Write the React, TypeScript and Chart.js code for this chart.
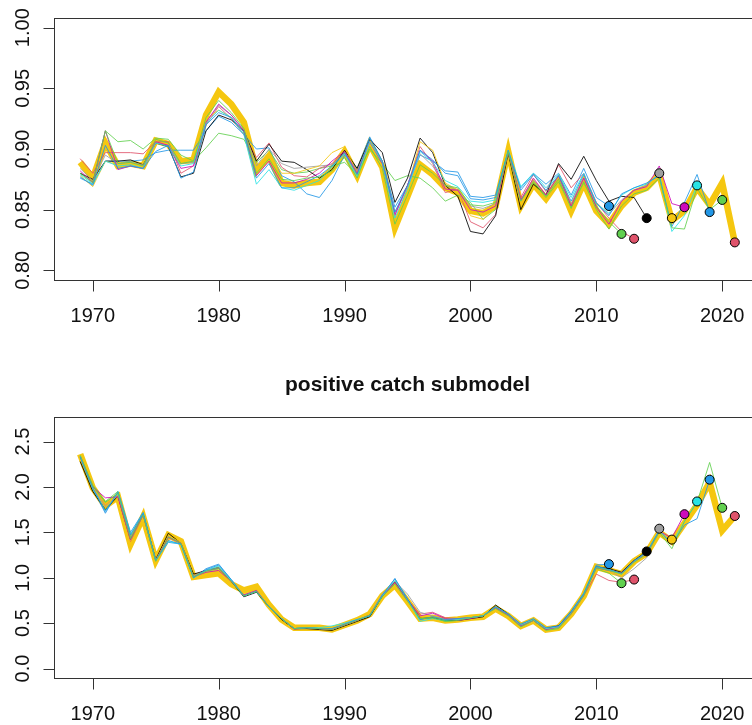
import { useEffect, useRef } from 'react';
import Chart from 'chart.js/auto';

// first year of every series, values are one per year from here
const FIRST_YEAR = 1969;
const xTickYears = [1970, 1980, 1990, 2000, 2010, 2020];

const topTicks = [0.8, 0.85, 0.9, 0.95, 1.0];
const topTickLabels = ['0.80', '0.85', '0.90', '0.95', '1.00'];
const bottomTicks = [0, 0.5, 1, 1.5, 2, 2.5];
const bottomTickLabels = ['0.0', '0.5', '1.0', '1.5', '2.0', '2.5'];

const bottomTitle = 'positive catch submodel';

// peels end in these years; the full run ends in 2021
const peelEndYears = [2011, 2012, 2013, 2014, 2015, 2016, 2017, 2018, 2019, 2020];
const peelColors = [
  '#2297E6', '#61D04F', '#DF536B', '#000000', '#9E9E9E',
  '#F5C710', '#CD0BBC', '#28E2E5', '#2297E6', '#61D04F',
];
const baseEndColor = '#DF536B';
const baseLineColor = '#F5C710';

// ---- top panel ----
const topBase = [
  0.889, 0.876, 0.905, 0.886, 0.888, 0.886, 0.907, 0.904, 0.890, 0.891,
  0.928, 0.947, 0.937, 0.922, 0.882, 0.894, 0.872, 0.870, 0.872, 0.873,
  0.883, 0.898, 0.878, 0.904, 0.885, 0.835, 0.861, 0.887, 0.879, 0.868,
  0.864, 0.849, 0.847, 0.853, 0.898, 0.853, 0.871, 0.859, 0.874, 0.849,
  0.872, 0.849, 0.838, 0.853, 0.864, 0.868, 0.879, 0.841, 0.849, 0.868, 0.854, 0.872, 0.823,
];
const top2011 = [
  0.876, 0.871, 0.890, 0.890, 0.890, 0.891, 0.897, 0.899, 0.899, 0.899,
  0.915, 0.927, 0.922, 0.912, 0.900, 0.901, 0.878, 0.873, 0.863, 0.860,
  0.874, 0.895, 0.884, 0.910, 0.890, 0.852, 0.870, 0.895, 0.890, 0.882,
  0.881, 0.861, 0.860, 0.862, 0.898, 0.868, 0.880, 0.871, 0.880, 0.862,
  0.884, 0.860, 0.853,
];
const top2012 = [
  0.880, 0.873, 0.915, 0.906, 0.907, 0.900, 0.909, 0.908, 0.895, 0.890,
  0.901, 0.913, 0.911, 0.908, 0.889, 0.899, 0.883, 0.880, 0.881, 0.884,
  0.886, 0.889, 0.879, 0.900, 0.888, 0.874, 0.878, 0.876, 0.868, 0.857,
  0.862, 0.856, 0.842, 0.850, 0.896, 0.858, 0.872, 0.860, 0.873, 0.852,
  0.872, 0.853, 0.840, 0.830,
];
const top2013 = [
  0.892, 0.880, 0.897, 0.897, 0.897, 0.896, 0.906, 0.906, 0.880, 0.886,
  0.920, 0.935, 0.925, 0.912, 0.893, 0.905, 0.885, 0.878, 0.877, 0.884,
  0.888, 0.897, 0.882, 0.905, 0.890, 0.845, 0.870, 0.902, 0.888, 0.864,
  0.867, 0.840, 0.835, 0.846, 0.898, 0.860, 0.879, 0.865, 0.887, 0.868,
  0.880, 0.856, 0.843, 0.832, 0.826,
];
const top2014 = [
  0.880, 0.875, 0.890, 0.890, 0.891, 0.887, 0.905, 0.902, 0.877, 0.880,
  0.915, 0.928, 0.924, 0.915, 0.890, 0.904, 0.890, 0.889, 0.883, 0.876,
  0.883, 0.899, 0.884, 0.908, 0.897, 0.856, 0.876, 0.909, 0.897, 0.870,
  0.861, 0.832, 0.830, 0.845, 0.897, 0.850, 0.871, 0.862, 0.888, 0.875,
  0.894, 0.874, 0.857, 0.861, 0.860, 0.843,
];
const top2015 = [
  0.884, 0.874, 0.895, 0.888, 0.889, 0.887, 0.905, 0.903, 0.888, 0.889,
  0.922, 0.936, 0.928, 0.916, 0.886, 0.900, 0.888, 0.884, 0.885, 0.886,
  0.887, 0.896, 0.882, 0.906, 0.888, 0.848, 0.868, 0.896, 0.886, 0.870,
  0.866, 0.853, 0.851, 0.855, 0.898, 0.857, 0.874, 0.862, 0.876, 0.855,
  0.876, 0.856, 0.846, 0.858, 0.866, 0.870, 0.880,
];
const top2016 = [
  0.878, 0.869, 0.890, 0.887, 0.888, 0.885, 0.906, 0.904, 0.889, 0.890,
  0.925, 0.932, 0.926, 0.914, 0.884, 0.898, 0.880, 0.880, 0.883, 0.886,
  0.897, 0.902, 0.880, 0.905, 0.889, 0.840, 0.868, 0.906, 0.899, 0.872,
  0.866, 0.845, 0.842, 0.852, 0.898, 0.855, 0.873, 0.861, 0.876, 0.850,
  0.873, 0.850, 0.834, 0.855, 0.865, 0.868, 0.878, 0.843,
];
const top2017 = [
  0.882, 0.872, 0.915, 0.883, 0.886, 0.884, 0.906, 0.903, 0.884, 0.886,
  0.922, 0.937, 0.928, 0.915, 0.878, 0.890, 0.872, 0.872, 0.875, 0.880,
  0.890, 0.898, 0.880, 0.906, 0.888, 0.846, 0.870, 0.899, 0.890, 0.867,
  0.866, 0.850, 0.848, 0.853, 0.898, 0.858, 0.876, 0.862, 0.878, 0.853,
  0.876, 0.852, 0.838, 0.857, 0.866, 0.869, 0.886, 0.855, 0.852,
];
const top2018 = [
  0.879, 0.871, 0.890, 0.886, 0.887, 0.884, 0.905, 0.902, 0.886, 0.888,
  0.921, 0.932, 0.926, 0.912, 0.871, 0.883, 0.868, 0.866, 0.870, 0.874,
  0.885, 0.896, 0.877, 0.906, 0.889, 0.843, 0.867, 0.898, 0.889, 0.874,
  0.869, 0.857, 0.856, 0.858, 0.899, 0.869, 0.880, 0.868, 0.879, 0.860,
  0.880, 0.855, 0.847, 0.862, 0.868, 0.871, 0.879, 0.832, 0.845, 0.870,
];
const top2019 = [
  0.877, 0.870, 0.903, 0.884, 0.886, 0.884, 0.898, 0.903, 0.876, 0.881,
  0.920, 0.930, 0.926, 0.914, 0.876, 0.888, 0.868, 0.868, 0.873, 0.878,
  0.886, 0.897, 0.879, 0.909, 0.890, 0.848, 0.870, 0.899, 0.891, 0.880,
  0.878, 0.859, 0.858, 0.860, 0.899, 0.866, 0.879, 0.866, 0.878, 0.857,
  0.879, 0.855, 0.845, 0.863, 0.868, 0.872, 0.878, 0.836, 0.856, 0.879, 0.848,
];
const top2020 = [
  0.880, 0.872, 0.915, 0.888, 0.889, 0.886, 0.908, 0.905, 0.888, 0.890,
  0.926, 0.940, 0.930, 0.917, 0.880, 0.892, 0.875, 0.874, 0.876, 0.877,
  0.882, 0.893, 0.876, 0.902, 0.884, 0.838, 0.862, 0.887, 0.880, 0.870,
  0.868, 0.854, 0.853, 0.856, 0.898, 0.857, 0.873, 0.861, 0.875, 0.851,
  0.873, 0.850, 0.834, 0.853, 0.863, 0.866, 0.876, 0.835, 0.834, 0.868, 0.850, 0.858,
];

// ---- bottom panel: positive catch submodel ----
const bottomBase = [
  2.36, 1.99, 1.79, 1.89, 1.37, 1.67, 1.19, 1.47, 1.40, 1.01,
  1.03, 1.05, 0.93, 0.86, 0.90, 0.70, 0.54, 0.45, 0.45, 0.45,
  0.43, 0.48, 0.53, 0.60, 0.80, 0.92, 0.74, 0.55, 0.56, 0.53,
  0.54, 0.56, 0.57, 0.66, 0.58, 0.47, 0.53, 0.43, 0.45, 0.60,
  0.80, 1.12, 1.08, 1.04, 1.18, 1.27, 1.50, 1.40, 1.60, 1.80, 2.05, 1.52, 1.68,
];
const bot2011 = [
  2.33, 1.98, 1.71, 1.95, 1.50, 1.72, 1.19, 1.39, 1.37, 1.00,
  1.10, 1.15, 0.98, 0.80, 0.85, 0.68, 0.55, 0.44, 0.45, 0.44,
  0.44, 0.48, 0.53, 0.58, 0.80, 0.99, 0.76, 0.54, 0.57, 0.54,
  0.55, 0.56, 0.58, 0.68, 0.59, 0.48, 0.54, 0.44, 0.47, 0.63,
  0.83, 1.14, 1.15,
];
const bot2012 = [
  2.34, 2.02, 1.84, 1.95, 1.45, 1.70, 1.19, 1.45, 1.38, 1.02,
  1.08, 1.12, 0.97, 0.81, 0.85, 0.68, 0.55, 0.44, 0.45, 0.44,
  0.43, 0.48, 0.53, 0.59, 0.79, 0.95, 0.75, 0.55, 0.56, 0.52,
  0.53, 0.56, 0.58, 0.67, 0.59, 0.46, 0.53, 0.43, 0.45, 0.61,
  0.82, 1.10, 1.05, 0.94,
];
const bot2013 = [
  2.33, 2.00, 1.80, 1.90, 1.40, 1.69, 1.19, 1.44, 1.38, 1.02,
  1.07, 1.10, 0.97, 0.81, 0.86, 0.68, 0.55, 0.43, 0.45, 0.44,
  0.43, 0.48, 0.53, 0.59, 0.80, 0.94, 0.76, 0.60, 0.62, 0.56,
  0.55, 0.56, 0.58, 0.67, 0.59, 0.47, 0.53, 0.43, 0.46, 0.60,
  0.80, 1.04, 0.97, 0.95, 0.98,
];
const bot2014 = [
  2.28, 1.95, 1.75, 1.90, 1.42, 1.70, 1.20, 1.49, 1.38, 1.04,
  1.08, 1.11, 0.96, 0.79, 0.84, 0.68, 0.54, 0.44, 0.44, 0.43,
  0.42, 0.47, 0.52, 0.57, 0.80, 0.95, 0.76, 0.56, 0.56, 0.53,
  0.53, 0.55, 0.57, 0.70, 0.60, 0.48, 0.54, 0.44, 0.47, 0.62,
  0.81, 1.12, 1.10, 1.06, 1.19, 1.29,
];
const bot2015 = [
  2.34, 1.99, 1.78, 1.92, 1.44, 1.70, 1.19, 1.45, 1.38, 1.02,
  1.08, 1.11, 0.97, 0.80, 0.85, 0.68, 0.55, 0.44, 0.45, 0.44,
  0.43, 0.48, 0.53, 0.59, 0.82, 0.96, 0.82, 0.62, 0.58, 0.54,
  0.54, 0.56, 0.58, 0.67, 0.59, 0.47, 0.53, 0.43, 0.46, 0.61,
  0.81, 1.11, 1.08, 1.00, 1.10, 1.22, 1.54,
];
const bot2016 = [
  2.35, 2.00, 1.80, 1.90, 1.41, 1.69, 1.19, 1.46, 1.39, 1.01,
  1.06, 1.09, 0.96, 0.82, 0.87, 0.69, 0.55, 0.44, 0.45, 0.44,
  0.43, 0.48, 0.53, 0.59, 0.80, 0.94, 0.75, 0.56, 0.57, 0.54,
  0.54, 0.56, 0.58, 0.67, 0.59, 0.48, 0.54, 0.44, 0.46, 0.61,
  0.81, 1.10, 1.07, 1.03, 1.17, 1.26, 1.50, 1.42,
];
const bot2017 = [
  2.34, 2.00, 1.88, 1.89, 1.42, 1.69, 1.19, 1.45, 1.38, 1.01,
  1.06, 1.08, 0.96, 0.81, 0.86, 0.68, 0.55, 0.44, 0.45, 0.44,
  0.43, 0.48, 0.53, 0.59, 0.80, 0.95, 0.75, 0.58, 0.61, 0.55,
  0.53, 0.55, 0.58, 0.67, 0.59, 0.47, 0.53, 0.43, 0.46, 0.61,
  0.81, 1.11, 1.08, 1.05, 1.18, 1.27, 1.51, 1.44, 1.70,
];
const bot2018 = [
  2.34, 1.98, 1.74, 1.93, 1.48, 1.71, 1.19, 1.40, 1.37, 1.00,
  1.08, 1.13, 0.97, 0.80, 0.85, 0.68, 0.55, 0.44, 0.45, 0.45,
  0.47, 0.50, 0.54, 0.58, 0.80, 0.97, 0.76, 0.52, 0.55, 0.53,
  0.54, 0.56, 0.58, 0.68, 0.60, 0.48, 0.54, 0.44, 0.46, 0.62,
  0.82, 1.12, 1.09, 1.04, 1.18, 1.28, 1.52, 1.38, 1.62, 1.84,
];
const bot2019 = [
  2.33, 1.99, 1.73, 1.94, 1.47, 1.71, 1.19, 1.41, 1.37, 1.00,
  1.09, 1.14, 0.98, 0.80, 0.85, 0.68, 0.55, 0.44, 0.45, 0.44,
  0.44, 0.49, 0.54, 0.58, 0.81, 0.99, 0.77, 0.54, 0.57, 0.54,
  0.55, 0.56, 0.58, 0.68, 0.60, 0.49, 0.55, 0.45, 0.47, 0.63,
  0.82, 1.13, 1.09, 1.05, 1.19, 1.28, 1.52, 1.37, 1.58, 1.65, 2.08,
];
const bot2020 = [
  2.35, 2.01, 1.83, 1.93, 1.43, 1.69, 1.18, 1.45, 1.38, 1.01,
  1.07, 1.10, 0.96, 0.80, 0.85, 0.68, 0.55, 0.44, 0.45, 0.44,
  0.43, 0.48, 0.53, 0.59, 0.79, 0.93, 0.74, 0.55, 0.56, 0.52,
  0.53, 0.56, 0.58, 0.66, 0.58, 0.46, 0.53, 0.42, 0.44, 0.60,
  0.80, 1.11, 1.08, 1.04, 1.17, 1.26, 1.50, 1.32, 1.62, 1.83, 2.27, 1.77,
];

const topPeels = [top2011, top2012, top2013, top2014, top2015, top2016, top2017, top2018, top2019, top2020];
const bottomPeels = [bot2011, bot2012, bot2013, bot2014, bot2015, bot2016, bot2017, bot2018, bot2019, bot2020];

const FONT = '"Liberation Sans", Arial, Helvetica, sans-serif';

const hexA = (hex: string, a: number) => {
  const n = parseInt(hex.slice(1), 16);
  return `rgba(${(n >> 16) & 255},${(n >> 8) & 255},${n & 255},${a})`;
};

const toPoints = (vals: number[]) => vals.map((v, i) => ({ x: FIRST_YEAR + i, y: v }));

// R style box, outward ticks, rotated y labels and optional main title
const rFrame = {
  id: 'rFrame',
  afterDraw(chart: any, _args: any, opts: any) {
    const { ctx, chartArea: a } = chart;
    const xs = chart.scales.x;
    const ys = chart.scales.y;
    ctx.save();
    ctx.strokeStyle = '#333';
    ctx.lineWidth = 1;
    const l = Math.round(a.left) + 0.5;
    const t = Math.round(a.top) + 0.5;
    const r = Math.round(a.right) + 0.5;
    const b = Math.round(a.bottom) + 0.5;
    ctx.strokeRect(l, t, r - l, b - t);
    ctx.beginPath();
    xTickYears.forEach((yr) => {
      const px = Math.round(xs.getPixelForValue(yr)) + 0.5;
      ctx.moveTo(px, b);
      ctx.lineTo(px, b + 11);
    });
    opts.ticks.forEach((v: number) => {
      const py = Math.round(ys.getPixelForValue(v)) + 0.5;
      ctx.moveTo(l, py);
      ctx.lineTo(l - 11, py);
    });
    ctx.stroke();

    ctx.fillStyle = '#111';
    ctx.font = `20px ${FONT}`;
    ctx.textAlign = 'center';
    ctx.textBaseline = 'alphabetic';
    xTickYears.forEach((yr) => {
      ctx.fillText(String(yr), xs.getPixelForValue(yr), a.bottom + 42);
    });
    opts.ticks.forEach((v: number, i: number) => {
      ctx.save();
      ctx.translate(28.5, ys.getPixelForValue(v));
      ctx.rotate(-Math.PI / 2);
      ctx.fillText(opts.labels[i], 0, 0);
      ctx.restore();
    });
    if (opts.title) {
      ctx.font = `bold 21px ${FONT}`;
      ctx.fillText(opts.title, (a.left + a.right) / 2, a.top - 26);
    }
    ctx.restore();
  },
};

interface PanelProps {
  base: number[];
  peels: number[][];
  yMin: number;
  yMax: number;
  ticks: number[];
  labels: string[];
  title?: string;
  top: number;
  height: number;
  padTop: number;
  padBottom: number;
}

const RetroPanel: React.FC<PanelProps> = ({
  base, peels, yMin, yMax, ticks, labels, title, top, height, padTop, padBottom,
}) => {
  const chartRef = useRef<HTMLCanvasElement>(null);

  useEffect(() => {
    if (!chartRef.current) return;
    const markerPts = [
      ...peels.map((p) => ({ x: FIRST_YEAR + p.length - 1, y: p[p.length - 1] })),
      { x: FIRST_YEAR + base.length - 1, y: base[base.length - 1] },
    ];
    const markerColors = [...peelColors, baseEndColor];

    const peelSets = peels.map((p, i) => ({
      label: String(peelEndYears[i]),
      data: toPoints(p),
      borderColor: hexA(peelColors[i], 0.85),
      borderWidth: 1,
      pointRadius: 0,
      tension: 0,
    }));

    const chart = new Chart(chartRef.current, {
      type: 'line',
      data: {
        datasets: [
          {
            label: 'ends',
            data: markerPts,
            showLine: false,
            pointRadius: 4.5,
            pointBackgroundColor: markerColors,
            pointBorderColor: '#000',
            pointBorderWidth: 1,
          },
          ...peelSets.reverse(),
          {
            label: 'base',
            data: toPoints(base),
            borderColor: baseLineColor,
            borderWidth: 6.5,
            pointRadius: 0,
            tension: 0,
          },
        ] as any,
      },
      options: {
        animation: false,
        responsive: true,
        maintainAspectRatio: false,
        events: [],
        layout: { padding: { left: 54, right: 9, top: padTop, bottom: padBottom } },
        plugins: {
          legend: { display: false },
          tooltip: { enabled: false },
          rFrame: { ticks, labels, title },
        } as any,
        scales: {
          x: { type: 'linear', min: 1966.92, max: 2023.08, display: false },
          y: { type: 'linear', min: yMin, max: yMax, display: false },
        },
      },
      plugins: [rFrame],
    });

    return () => chart.destroy();
  }, [base, peels, yMin, yMax, ticks, labels, title, padTop, padBottom]);

  return (
    <div style={{ position: 'absolute', left: 0, top, width: 770, height }}>
      <canvas ref={chartRef} />
    </div>
  );
};

export default function App() {
  return (
    <div
      style={{
        position: 'absolute',
        left: 0,
        top: 0,
        width: 752,
        height: 725,
        overflow: 'hidden',
        background: '#fff',
      }}
    >
      <RetroPanel
        base={topBase}
        peels={topPeels}
        yMin={0.792}
        yMax={1.008}
        ticks={topTicks}
        labels={topTickLabels}
        top={0}
        height={330}
        padTop={18}
        padBottom={50}
      />
      <RetroPanel
        base={bottomBase}
        peels={bottomPeels}
        yMin={-0.104}
        yMax={2.77}
        ticks={bottomTicks}
        labels={bottomTickLabels}
        title={bottomTitle}
        top={345}
        height={380}
        padTop={72}
        padBottom={47}
      />
    </div>
  );
}
